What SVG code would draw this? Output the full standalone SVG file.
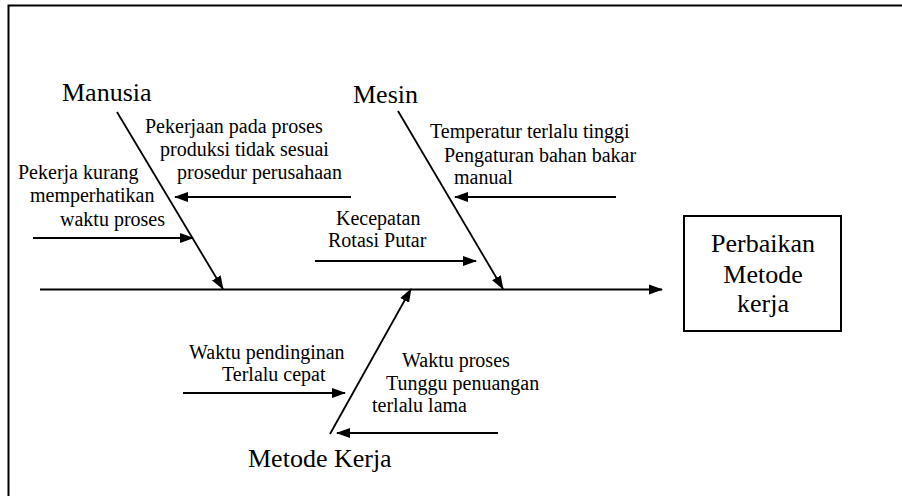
<svg xmlns="http://www.w3.org/2000/svg" width="902" height="496" viewBox="0 0 902 496" font-family="'Liberation Serif', 'Times New Roman', Times, serif">
<defs>
<marker id="ah" markerUnits="userSpaceOnUse" markerWidth="14" markerHeight="12" refX="13" refY="5" orient="auto" viewBox="0 0 14 10">
<path d="M0,0 L14,5 L0,10 z" fill="#000"/>
</marker>
</defs>
<style>
text{font-family:'Liberation Serif','Times New Roman',Times,serif;fill:#000}
.s{font-size:20px}
.b{font-size:26px}
.ln{stroke:#000;stroke-width:1.8;fill:none}
.sp{stroke:#000;stroke-width:2;fill:none}
</style>
<rect width="902" height="496" fill="#fff"/>
<path id="frame" d="M8.5,496 V5.5 H902" fill="none" stroke="#000" stroke-width="2"/>
<g id="connectors">
<line class="sp" x1="40" y1="289.5" x2="662" y2="289.5" marker-end="url(#ah)"/>
<line class="ln" x1="117" y1="112" x2="223" y2="289" marker-end="url(#ah)"/>
<line class="ln" x1="398" y1="111" x2="503" y2="289" marker-end="url(#ah)"/>
<line class="ln" x1="330" y1="434" x2="411" y2="289" marker-end="url(#ah)"/>
<line class="ln" x1="351" y1="197" x2="175" y2="197" marker-end="url(#ah)"/>
<line class="ln" x1="33" y1="238" x2="193" y2="238" marker-end="url(#ah)"/>
<line class="ln" x1="616" y1="197" x2="455" y2="197" marker-end="url(#ah)"/>
<line class="ln" x1="315" y1="261" x2="476" y2="261" marker-end="url(#ah)"/>
<line class="ln" x1="183" y1="393" x2="345" y2="393" marker-end="url(#ah)"/>
<line class="ln" x1="498" y1="433" x2="337" y2="433" marker-end="url(#ah)"/>
</g>
<g id="manusia"><text class="b" x="62" y="101">Manusia</text></g>
<g id="mesin"><text class="b" x="353" y="103">Mesin</text></g>
<g id="metode-kerja"><text class="b" x="248" y="467">Metode Kerja</text></g>
<g id="cause-pekerjaan">
<text class="s" x="145" y="133">Pekerjaan pada proses</text>
<text class="s" x="160" y="156">produksi tidak sesuai</text>
<text class="s" x="177" y="179">prosedur perusahaan</text>
</g>
<g id="cause-pekerja">
<text class="s" x="18" y="179">Pekerja kurang</text>
<text class="s" x="30" y="202">memperhatikan</text>
<text class="s" x="60" y="226">waktu proses</text>
</g>
<g id="cause-temperatur">
<text class="s" x="430" y="138">Temperatur terlalu tinggi</text>
<text class="s" x="444" y="162">Pengaturan bahan bakar</text>
<text class="s" x="454" y="184">manual</text>
</g>
<g id="cause-kecepatan">
<text class="s" x="336" y="225">Kecepatan</text>
<text class="s" x="328" y="247">Rotasi Putar</text>
</g>
<g id="cause-pendinginan">
<text class="s" x="189" y="359">Waktu pendinginan</text>
<text class="s" x="222" y="381">Terlalu cepat</text>
</g>
<g id="cause-tunggu">
<text class="s" x="402" y="367">Waktu proses</text>
<text class="s" x="386" y="390">Tunggu penuangan</text>
<text class="s" x="372" y="412">terlalu lama</text>
</g>
<g id="effect">
<rect x="684" y="216" width="157" height="115" fill="#fff" stroke="#000" stroke-width="2"/>
<text class="b" x="763" y="252" text-anchor="middle">Perbaikan</text>
<text class="b" x="763" y="283" text-anchor="middle">Metode</text>
<text class="b" x="763" y="312" text-anchor="middle">kerja</text>
</g>
</svg>
